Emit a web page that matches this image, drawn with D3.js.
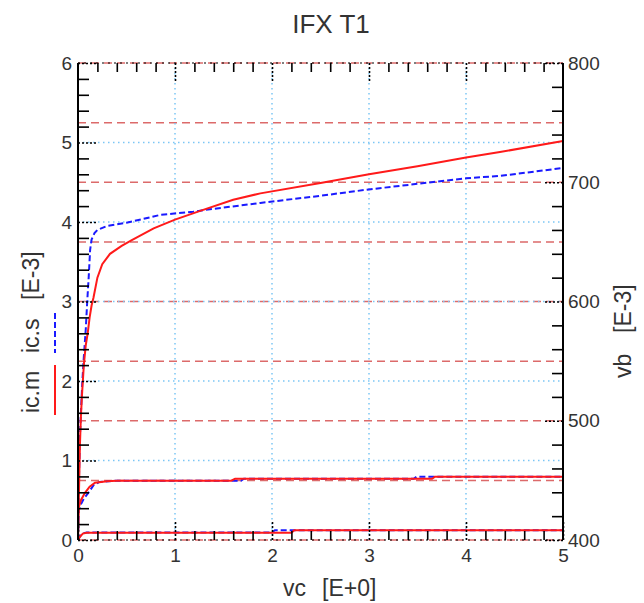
<!DOCTYPE html>
<html><head><meta charset="utf-8">
<script src="https://cdn.jsdelivr.net/npm/d3@7"></script>
<style>body{margin:0;background:#fff}svg{display:block}text{font-family:"Liberation Sans",Arial,sans-serif}</style>
</head><body>
<svg id="c" width="644" height="603"></svg>
<script>
// ---- data ----
const xTicks = [0,1,2,3,4,5];
const yLTicks = [0,1,2,3,4,5,6];
const yRTicks = [400,500,600,700,800];
const redGrid = [400,450,500,550,600,650,700,750,800];

// high curve
const vcHighM = [0,0.005,0.01,0.02,0.03,0.04,0.06,0.08,0.1,0.12,0.14,0.16,0.2,0.25,0.33,0.45,0.55,0.78,1.0,1.26,1.6,1.88,2.5,3.0,3.5,4.0,4.35,5.0];
const icHighM = [0,0.3,0.6,1.2,1.55,1.8,2.2,2.45,2.6,2.8,2.95,3.05,3.3,3.47,3.6,3.7,3.77,3.92,4.03,4.14,4.28,4.36,4.49,4.6,4.7,4.81,4.88,5.02];
const vcHighS = [0,0.005,0.01,0.02,0.03,0.045,0.06,0.08,0.095,0.11,0.125,0.14,0.17,0.2,0.3,0.5,0.85,1.19,1.36,1.88,2.5,3.0,3.5,4.0,4.35,5.0];
const icHighS = [0,0.4,0.8,1.3,1.6,2.0,2.3,2.65,3.0,3.3,3.65,3.78,3.86,3.9,3.95,3.99,4.09,4.13,4.16,4.24,4.33,4.41,4.48,4.55,4.58,4.68];
// middle curve
const vcMidM = [0,0.003,0.01,0.03,0.07,0.12,0.175,0.3,0.4,1.58,1.62,3.65,3.68,5];
const icMidM = [0,0.3,0.42,0.5,0.59,0.67,0.72,0.74,0.746,0.746,0.771,0.771,0.796,0.796];
const vcMidS = [0,0.003,0.01,0.03,0.06,0.117,0.16,0.22,0.4,1.68,1.71,3.46,3.49,5];
const icMidS = [0,0.25,0.38,0.45,0.52,0.61,0.69,0.73,0.746,0.746,0.771,0.771,0.796,0.796];
// low curve
const vcLowM = [0,0.02,0.05,0.09,2.2,2.23,5];
const icLowM = [0,0.04,0.08,0.092,0.092,0.122,0.122];
const vcLowS = [0,0.02,0.05,0.09,2.0,2.03,5];
const icLowS = [0,0.045,0.085,0.095,0.095,0.122,0.122];

// ---- layout ----
const L=78,R=563,T=63,B=540;
const svg=d3.select("#c");
const x=d3.scaleLinear([0,5],[L,R]);
const yL=d3.scaleLinear([0,6],[B,T]);
const yR=d3.scaleLinear([400,800],[B,T]);
const minor=(a,b,s)=>d3.range(Math.round((b-a)/s)+1).map(i=>+(a+i*s).toFixed(6)).filter(v=>Math.abs(v-Math.round(v/ (s*5))*(s*5))>1e-6);

// grids
const g=svg.append("g");
g.selectAll(".rg").data(redGrid).join("line")
 .attr("x1",L).attr("x2",R).attr("y1",d=>yR(d)).attr("y2",d=>yR(d))
 .attr("stroke","#dc6a6a").attr("stroke-width",1.5).attr("stroke-dasharray","8,5");
g.selectAll(".bgy").data([1,2,3,4,5]).join("line")
 .attr("x1",L).attr("x2",R).attr("y1",d=>yL(d)).attr("y2",d=>yL(d))
 .attr("stroke","#7cc6f5").attr("stroke-width",1.5).attr("stroke-dasharray","1.5,3.5");
g.selectAll(".bgx").data([1,2,3,4]).join("line")
 .attr("y1",T).attr("y2",B).attr("x1",d=>x(d)).attr("x2",d=>x(d))
 .attr("stroke","#7cc6f5").attr("stroke-width",1.5).attr("stroke-dasharray","1.5,3.5");

// curves
const line=d3.line().x(d=>x(d[0])).y(d=>yL(d[1]));
const zip=(a,b)=>a.map((v,i)=>[v,b[i]]);
const curves=[
 {v:vcHighS,i:icHighS,s:true},{v:vcMidS,i:icMidS,s:true},{v:vcLowS,i:icLowS,s:true},
 {v:vcHighM,i:icHighM,s:false},{v:vcMidM,i:icMidM,s:false},{v:vcLowM,i:icLowM,s:false}];
svg.append("g").selectAll("path").data(curves).join("path")
 .attr("d",d=>line(zip(d.v,d.i))).attr("fill","none")
 .attr("stroke",d=>d.s?"#1a1aff":"#ff1a1a").attr("stroke-width",2)
 .attr("stroke-dasharray",d=>d.s?"6,3":null);

// borders top/bottom (dotted black)
svg.selectAll(".hb").data([T,B]).join("line")
 .attr("x1",L).attr("x2",R).attr("y1",d=>d).attr("y2",d=>d)
 .attr("stroke","#000").attr("stroke-width",1.2).attr("stroke-dasharray","2,4");

// axes
function style(sel,dotted){
  sel.select(".domain").remove();
  sel.selectAll(".tick line").attr("stroke","#000").attr("stroke-width",1.6)
     .attr("stroke-dasharray",dotted?"2,2":null);
  sel.selectAll(".tick text").attr("fill","#333").style("font-size","19px")
     .style("font-family",'"Liberation Sans",Arial,sans-serif');
}
const mx=minor(0,5,0.2), my=minor(0,6,0.2), mr=d3.range(400,801,20).filter(v=>v%100!==0);
// minor
style(svg.append("g").attr("transform",`translate(0,${B})`).call(d3.axisBottom(x).tickValues(mx).tickSize(-9).tickFormat("")));
style(svg.append("g").attr("transform",`translate(0,${T})`).call(d3.axisTop(x).tickValues(mx).tickSize(-9).tickFormat("")));
style(svg.append("g").attr("transform",`translate(${L},0)`).call(d3.axisLeft(yL).tickValues(my).tickSize(-11).tickFormat("")));
style(svg.append("g").attr("transform",`translate(${R},0)`).call(d3.axisRight(yR).tickValues(mr).tickSize(-11).tickFormat("")));
// major
style(svg.append("g").attr("transform",`translate(0,${B})`).call(d3.axisBottom(x).tickValues(xTicks).tickSize(-18).tickPadding(9).tickFormat(d3.format("d"))),true);
style(svg.append("g").attr("transform",`translate(0,${T})`).call(d3.axisTop(x).tickValues([1,2,3,4]).tickSize(-18).tickFormat("")),true);
style(svg.append("g").attr("transform",`translate(${L},0)`).call(d3.axisLeft(yL).tickValues(yLTicks).tickSize(-20).tickPadding(6).tickFormat(d3.format("d"))),true);
style(svg.append("g").attr("transform",`translate(${R},0)`).call(d3.axisRight(yR).tickValues(yRTicks).tickSize(-20).tickPadding(5).tickFormat(d3.format("d"))),true);

// left/right solid axis lines
svg.selectAll(".vb").data([L,R]).join("line")
 .attr("x1",d=>d).attr("x2",d=>d).attr("y1",T).attr("y2",B)
 .attr("stroke","#000").attr("stroke-width",2);

// texts
const txt=(s,xx,yy,size,anchor,rot)=>{
  const t=svg.append("text").text(s).attr("fill","#333").style("font-size",size+"px").attr("text-anchor",anchor||"start");
  if(rot) t.attr("transform",`translate(${xx},${yy}) rotate(-90)`); else t.attr("x",xx).attr("y",yy);
  return t;
};
txt("IFX T1",331,33,26,"middle");
txt("vc",283,596,23);
txt("[E+0]",322,596,23);
txt("ic.m",39,413,23,"start",true);
txt("ic.s",39,353,23,"start",true);
txt("[E-3]",39,300,23,"start",true);
txt("vb",631,378,23,"start",true);
txt("[E-3]",631,333,23,"start",true);
// legend swatches
svg.append("line").attr("x1",55).attr("x2",55).attr("y1",365).attr("y2",415).attr("stroke","#ff1a1a").attr("stroke-width",2);
svg.append("line").attr("x1",55).attr("x2",55).attr("y1",313).attr("y2",353).attr("stroke","#1a1aff").attr("stroke-width",2).attr("stroke-dasharray","6,3");
</script>
</body></html>
